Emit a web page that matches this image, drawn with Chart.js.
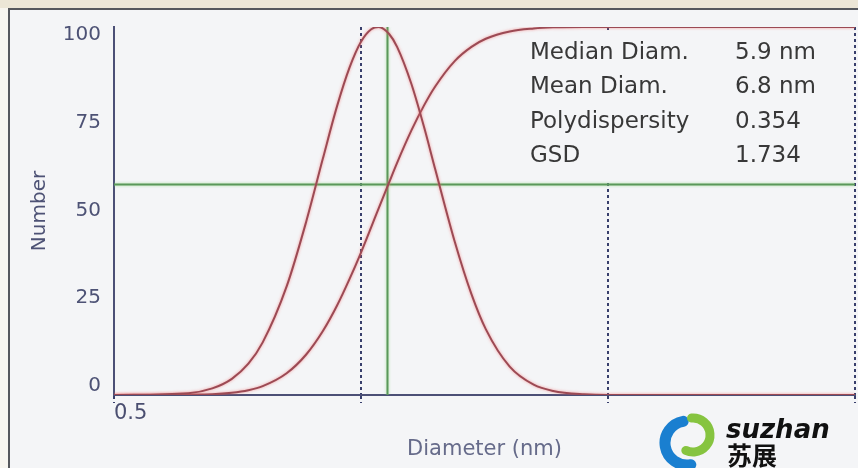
<!DOCTYPE html>
<html>
<head>
<meta charset="utf-8">
<script src="https://cdn.jsdelivr.net/npm/chart.js@4.4.0/dist/chart.umd.min.js"></script>
<style>
  html, body { margin: 0; padding: 0; }
  body { width: 858px; height: 468px; background: #f7f5ef; overflow: hidden; position: relative; }
  #topband { position: absolute; left: 0; top: 0; width: 858px; height: 8px; background: #ece6d6; }
  #frame { position: absolute; left: 8px; top: 8px; width: 850px; height: 460px;
           border-top: 2px solid #55575c; border-left: 2px solid #55575c; background: #f4f5f7; }
  canvas { display: block; }
</style>
</head>
<body>
<div id="topband"></div>
<div id="frame"><canvas id="c" width="848" height="458"></canvas></div>
<script>
// diameters in nm (log axis)
const diameters = [0.5, 1, 1.25, 1.5, 1.75, 2, 2.5, 3, 3.5, 4, 4.5, 5, 5.5, 5.9, 6.5, 7, 8, 9, 10, 12, 14, 16, 20, 25, 30, 40, 50, 100, 500]
const numberFreq = [0, 0.5, 1.8, 4.4, 8.5, 14.3, 29.5, 47.1, 64.1, 78.5, 89.1, 96.0, 99.4, 100, 98.1, 94.6, 84.5, 72.8, 61.2, 41.5, 27.4, 17.9, 7.7, 2.8, 1.1, 0.2, 0, 0, 0]
const cumulative = [0, 0.1, 0.2, 0.6, 1.3, 2.4, 5.9, 11.0, 17.3, 24.3, 31.6, 38.7, 45.6, 50.8, 57.8, 63.1, 71.9, 78.7, 83.9, 90.8, 94.6, 96.8, 98.8, 99.6, 99.9, 100, 100, 100, 100]

// cursor cross
const cursorX = 6.4
const cursorY = 57.2

const xTickValues = [0.5, 5, 50, 500]
const xTickLabels = ['0.5', '', '', '']
const yTickValues = [0, 25, 50, 75, 100]

const statLabels = ['Median Diam.', 'Mean Diam.', 'Polydispersity', 'GSD']
const statValues = ['5.9 nm', '6.8 nm', '0.354', '1.734']

const axisColor = '#4c5076'
const redLine = '#9c4a54'
const greenLine = '#5a985a'

function toPoints(xs, ys) {
  return xs.map(function (x, i) {
    return { x: x, y: ys[i] }
  })
}

// soft halo round the lines, like the blurry original
const glow = {
  id: 'glow',
  beforeDatasetDraw(chart, args) {
    const ctx = chart.ctx
    ctx.save()
    ctx.shadowColor = args.index < 2 ? 'rgba(245,110,110,0.7)' : 'rgba(150,220,140,0.8)'
    ctx.shadowBlur = 3
  },
  afterDatasetDraw(chart) {
    chart.ctx.restore()
  }
}

// stats panel, sits over the grid but under the curves
const statBox = {
  id: 'statBox',
  beforeDatasetsDraw(chart) {
    const ctx = chart.ctx
    ctx.save()
    ctx.fillStyle = '#f4f5f7'
    ctx.fillRect(510, 20, 330, 150)
    ctx.fillStyle = '#383838'
    ctx.font = '23px "DejaVu Sans"'
    ctx.textBaseline = 'middle'
    ctx.textAlign = 'left'
    statLabels.forEach(function (lab, i) {
      const y = 43 + i * 34.3
      ctx.fillText(lab, 520, y)
      ctx.fillText(statValues[i], 725, y)
    })
    ctx.restore()
  }
}

const logo = {
  id: 'logo',
  afterDraw(chart) {
    const ctx = chart.ctx
    ctx.save()
    ctx.lineCap = 'round'
    ctx.strokeStyle = '#1a7fd0'
    ctx.lineWidth = 11
    ctx.beginPath()
    ctx.arc(677, 433, 22, -100 * Math.PI / 180, 80 * Math.PI / 180, true)
    ctx.stroke()
    ctx.strokeStyle = '#86c440'
    ctx.lineWidth = 9
    ctx.beginPath()
    ctx.arc(683, 425, 17, -95 * Math.PI / 180, 115 * Math.PI / 180, false)
    ctx.stroke()
    ctx.fillStyle = '#111'
    ctx.textAlign = 'left'
    ctx.textBaseline = 'alphabetic'
    ctx.font = 'italic bold 26px "DejaVu Sans"'
    ctx.fillText('suzhan', 716, 428)
    ctx.font = 'bold 25px "Noto Sans CJK SC"'
    ctx.fillText('苏展', 717, 455)
    ctx.restore()
  }
}

const canvas = document.getElementById('c')
new Chart(canvas, {
  type: 'line',
  data: {
    datasets: [
      {
        data: toPoints(diameters, numberFreq),
        borderColor: redLine,
        borderWidth: 2,
        pointRadius: 0,
        cubicInterpolationMode: 'monotone',
        xAxisID: 'x',
        yAxisID: 'y'
      },
      {
        data: toPoints(diameters, cumulative),
        borderColor: redLine,
        borderWidth: 2,
        pointRadius: 0,
        cubicInterpolationMode: 'monotone',
        xAxisID: 'x',
        yAxisID: 'y'
      },
      {
        data: [{ x: cursorX, y: 0 }, { x: cursorX, y: 100 }],
        borderColor: greenLine,
        borderWidth: 2,
        pointRadius: 0,
        xAxisID: 'x',
        yAxisID: 'y'
      },
      {
        data: [{ x: 0.5, y: cursorY }, { x: 500, y: cursorY }],
        borderColor: greenLine,
        borderWidth: 2,
        pointRadius: 0,
        xAxisID: 'x',
        yAxisID: 'y'
      }
    ]
  },
  options: {
    responsive: false,
    animation: false,
    devicePixelRatio: 1,
    layout: { padding: { left: 0, right: 3, top: 17, bottom: 0 } },
    plugins: { legend: { display: false }, tooltip: { enabled: false } },
    scales: {
      x: {
        type: 'logarithmic',
        position: 'bottom',
        min: 0.5,
        max: 500,
        afterBuildTicks: function (s) {
          s.ticks = xTickValues.map(function (v) { return { value: v } })
        },
        ticks: {
          autoSkip: false,
          maxRotation: 0,
          align: 'start',
          padding: -2,
          color: '#4a4e70',
          font: { family: 'DejaVu Sans', size: 21 },
          callback: function (v, i) { return xTickLabels[i] }
        },
        grid: {
          color: '#383f6c',
          lineWidth: 2,
          tickLength: 8,
          tickBorderDash: [3, 3]
        },
        border: { display: true, color: axisColor, width: 2, dash: [3, 3] },
        title: {
          display: true,
          text: 'Diameter (nm)',
          color: '#666b8a',
          font: { family: 'DejaVu Sans', size: 21 },
          padding: { top: 0, bottom: 6 }
        },
        afterFit: function (s) {
          s.height = 73
          s.paddingLeft = 0
          s.paddingRight = 0
        }
      },
      y: {
        type: 'linear',
        position: 'left',
        weight: 0,
        min: 0,
        max: 100,
        ticks: { display: false },
        grid: { display: false, drawTicks: false },
        border: { display: true, color: axisColor, width: 2 },
        afterFit: function (s) {
          s.width = 0
          s.paddingTop = 0
          s.paddingBottom = 0
        }
      },
      // label-only axis, the labels in the original sit a bit squeezed
      yl: {
        type: 'linear',
        position: 'left',
        weight: 1,
        min: -2.56,
        max: 102.28,
        afterBuildTicks: function (s) {
          s.ticks = yTickValues.map(function (v) { return { value: v } })
        },
        ticks: {
          padding: 13,
          color: '#4d5275',
          font: { family: 'DejaVu Sans', size: 20 }
        },
        grid: { display: false, drawTicks: false },
        border: { display: false },
        title: {
          display: true,
          text: 'Number',
          color: '#4d5275',
          font: { family: 'DejaVu Sans', size: 20 },
          padding: { top: 18, bottom: 0 }
        },
        afterFit: function (s) {
          s.width = 104
          s.paddingTop = 0
          s.paddingBottom = 0
        }
      }
    }
  },
  plugins: [glow, statBox, logo]
})
</script>
</body>
</html>
